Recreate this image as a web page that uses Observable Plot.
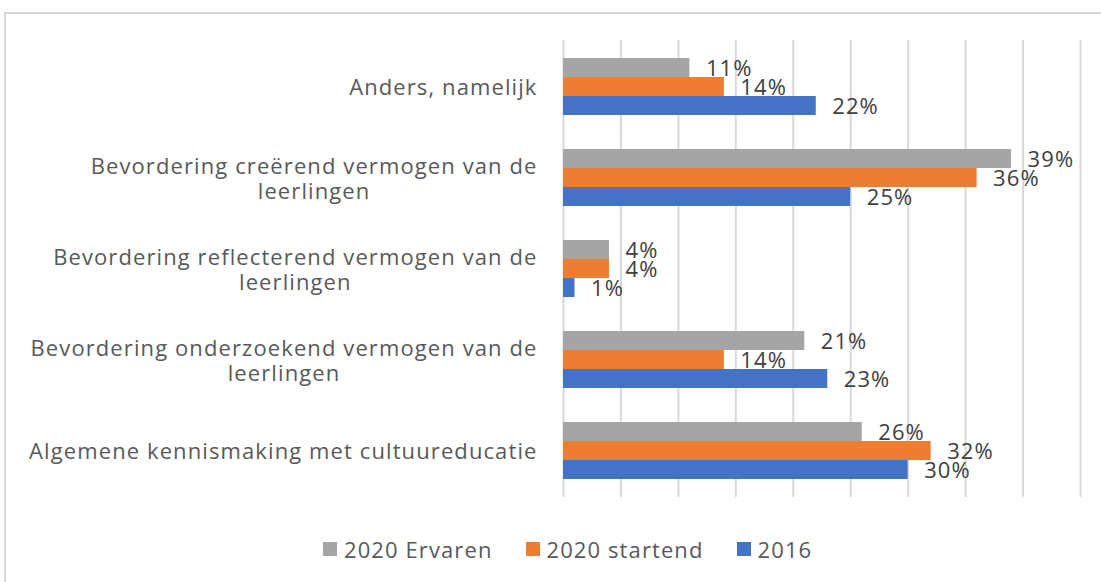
<!DOCTYPE html>
<html>
<head>
<meta charset="utf-8">
<script src="https://cdn.jsdelivr.net/npm/d3@7"></script>
<script src="https://cdn.jsdelivr.net/npm/@observablehq/plot@0.6"></script>
<style>
  html, body { margin: 0; padding: 0; background: #fff; overflow: hidden; }
  body { width: 1101px; height: 582px; position: relative; font-family: "Open Sans", sans-serif; }
  #frame { position: absolute; left: 4px; top: 12px; width: 1200px; height: 700px; border: 2px solid #d9d9d9; box-sizing: border-box; }
  #chart { position: absolute; left: 0; top: 0; }
  #legend { position: absolute; left: 323px; top: 520px; height: 58px; display: flex; align-items: center;
            font-size: 22px; letter-spacing: 1.1px; color: #595959; white-space: nowrap; }
  #legend .item { display: flex; align-items: center; margin-right: 33px; }
  #legend .sw { width: 14px; height: 14px; margin-right: 7px; }
</style>
</head>
<body>
<div id="frame"></div>
<div id="chart"></div>
<div id="legend"></div>
<script>
// ---- data ----
const categories = [
  "Anders, namelijk",
  "Bevordering creërend vermogen van de leerlingen",
  "Bevordering reflecterend vermogen van de leerlingen",
  "Bevordering onderzoekend vermogen van de leerlingen",
  "Algemene kennismaking met cultuureducatie"
];
const categoryLabels = [
  "Anders, namelijk",
  "Bevordering creërend vermogen van de\nleerlingen",
  "Bevordering reflecterend vermogen van de\nleerlingen",
  "Bevordering onderzoekend vermogen van de\nleerlingen",
  "Algemene kennismaking met cultuureducatie"
];
const seriesNames = ["2020 Ervaren", "2020 startend", "2016"];
const ervaren2020 = [11, 39, 4, 21, 26];
const startend2020 = [14, 36, 4, 14, 32];
const values2016 = [22, 25, 1, 23, 30];
const seriesColors = ["#A5A5A5", "#ED7D31", "#4472C4"];

const seriesValues = [ervaren2020, startend2020, values2016];
const rows = seriesNames.map((s, si) =>
  categories.map((c, ci) => ({ category: c, series: s, value: seriesValues[si][ci] }))
);
const labelOf = new Map(categories.map((c, i) => [c, categoryLabels[i]]));

const band = 57;           // band height for one category group
const sub = band / 3;      // one bar
const fontSize = 22;

const marks = [
  Plot.gridX({ stroke: "#d9d9d9", strokeOpacity: 1, strokeWidth: 2 }),
  Plot.axisY({ tickSize: 0, tickPadding: 26, fontSize: fontSize, lineHeight: 1.14, fill: "#595959",
               label: null, tickFormat: d => labelOf.get(d) })
];
seriesNames.forEach((s, si) => {
  marks.push(Plot.barX(rows[si], {
    x: "value", y: "category", fill: seriesColors[si],
    insetTop: si * sub, insetBottom: (2 - si) * sub
  }));
});
seriesNames.forEach((s, si) => {
  marks.push(Plot.text(rows[si], {
    x: "value", y: "category", text: d => d.value + "%",
    dx: 16, dy: (si - 1) * sub + 1, textAnchor: "start", fill: "#404040", fontSize: fontSize
  }));
});

const chart = Plot.plot({
  width: 1101,
  height: 520,
  marginLeft: 563,
  marginRight: 21,
  marginTop: 40,
  marginBottom: 23,
  style: { fontFamily: "Open Sans, sans-serif", letterSpacing: "1.1px", background: "transparent" },
  x: { domain: [0, 45], ticks: 10, axis: null },
  y: { domain: categories, paddingInner: 0.375, paddingOuter: 0.19, axis: null, label: null },
  marks
});
document.getElementById("chart").appendChild(chart);

// center wrapped category labels (Excel-style centered wrap)
d3.select(chart).selectAll('g[aria-label="y-axis tick label"] text').each(function() {
  const bb = this.getBBox();
  const t = d3.select(this);
  t.attr("text-anchor", "middle");
  const tr = t.attr("transform") || "";
  t.attr("transform", tr + ` translate(${-bb.width / 2},0)`);
});

// legend
const legend = d3.select("#legend");
seriesNames.forEach((s, i) => {
  const item = legend.append("div").attr("class", "item");
  item.append("div").attr("class", "sw").style("background", seriesColors[i]);
  item.append("span").text(s);
});
</script>
</body>
</html>
